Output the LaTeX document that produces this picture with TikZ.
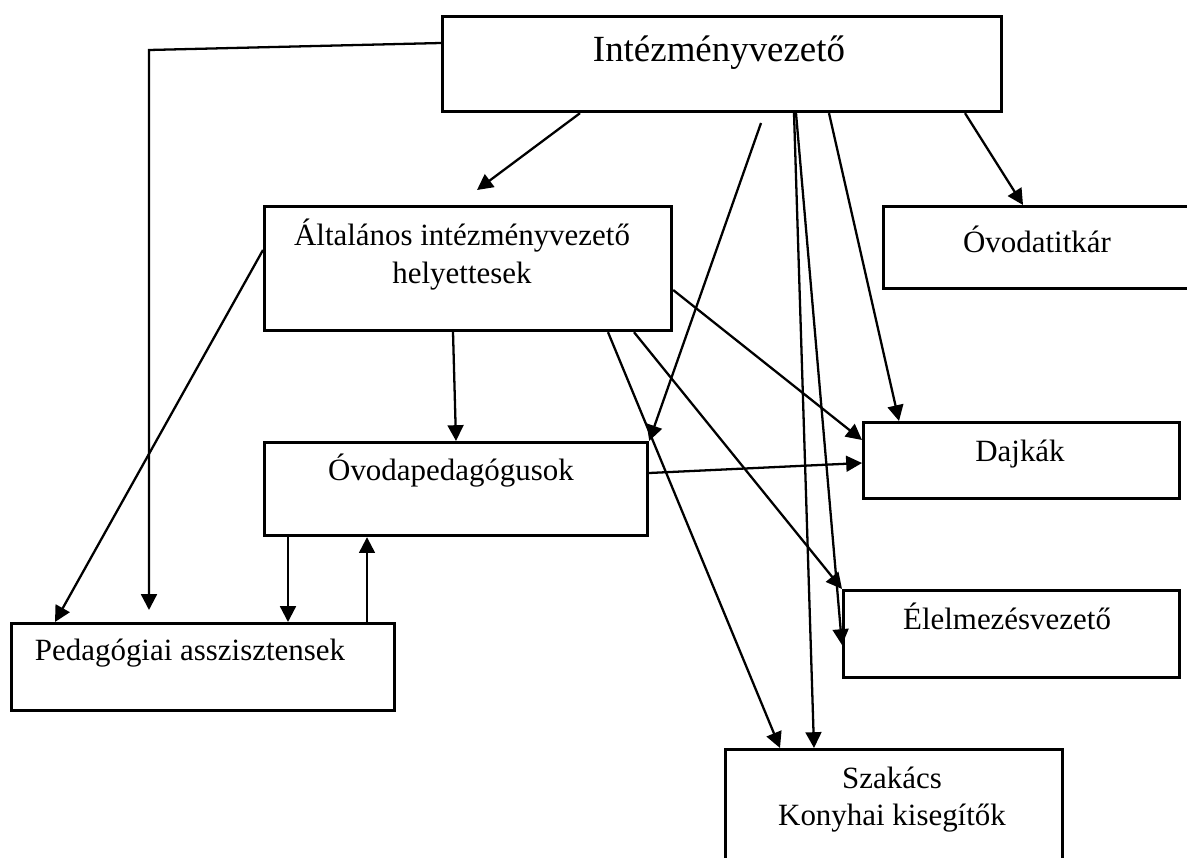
\documentclass[tikz,border=0pt]{standalone}
\usepackage{fontspec}
\setmainfont{Liberation Serif}
\usetikzlibrary{arrows.meta}

\tikzset{
  box/.style={draw, line width=1.8pt, anchor=north west, inner sep=0pt},
  lbl/.style={anchor=base, inner sep=0pt, font=\fontsize{17.6}{21.5}\selectfont},
  conn/.style={line width=1.3pt, -{Triangle[length=9pt,width=9pt]}}
}

\begin{document}
\begin{tikzpicture}[x=0.2mm,y=-0.2mm]
        \path[use as bounding box] (0,0) rectangle (1187,857);
        \clip (0,0) rectangle (1187,857);
        \node[box, minimum width=111.8mm, minimum height=19mm] (ivez) at (441,15) {};
        \node[box, minimum width=63.6mm, minimum height=16.4mm] (titkar) at (882,205) {};
        \node[box, minimum width=81.4mm, minimum height=24.8mm] (helyettes) at (263,205) {};
        \node[box, minimum width=76.6mm, minimum height=18.6mm] (ovped) at (263,441) {};
        \node[box, minimum width=63.2mm, minimum height=15.2mm] (dajka) at (862,421) {};
        \node[box, minimum width=67.2mm, minimum height=17.4mm] (elelm) at (842,589) {};
        \node[box, minimum width=76.6mm, minimum height=17.4mm] (pedasz) at (10,622) {};
        \node[box, minimum width=67.4mm, minimum height=26mm] (szakacs) at (724,748) {};

        \node[lbl, font=\fontsize{21}{25}\selectfont] (ivez-t) at (719,61) {Intézményvezető};
        \node[lbl] (titkar-t) at (1037,252) {Óvodatitkár};
        \node[lbl] (helyettes-t1) at (462,245) {Általános intézményvezető};
        \node[lbl] (helyettes-t2) at (462,283) {helyettesek};
        \node[lbl] (ovped-t) at (451,480) {Óvodapedagógusok};
        \node[lbl] (dajka-t) at (1020,461) {Dajkák};
        \node[lbl] (elelm-t) at (1007,629) {Élelmezésvezető};
        \node[lbl] (pedasz-t) at (190,660) {Pedagógiai asszisztensek};
        \node[lbl] (szakacs-t1) at (892,788) {Szakács};
        \node[lbl] (szakacs-t2) at (892,825) {Konyhai kisegítők};

        \coordinate (bend) at (149,50);
        \coordinate (end1) at (149,610);
        \coordinate (end2) at (477,190);
        \coordinate (start3) at (761,123);

        \draw[conn] (ivez.west |- 0,43) -- (bend) -- (end1);
        \draw[conn] (580,0 |- ivez.south) -- (end2);
        \draw[conn] (start3) -- (ovped.north east);
        \draw[conn] (794,0 |- ivez.south) -- (814,0 |- szakacs.north);
        \draw[conn] (796,0 |- ivez.south) -- (elelm.west |- 0,645);
        \draw[conn] (829,0 |- ivez.south) -- (899,0 |- dajka.north);
        \draw[conn] (965,0 |- ivez.south) -- (1023,0 |- titkar.north);
        \draw[conn] (helyettes.east |- 0,290) -- (dajka.west |- 0,440);
        \draw[conn] (453,0 |- helyettes.south) -- (456,0 |- ovped.north);
        \draw[conn] (608,0 |- helyettes.south) -- (780,0 |- szakacs.north);
        \draw[conn] (634,0 |- helyettes.south) -- (elelm.north west);
        \draw[conn] (helyettes.west |- 0,250) -- (55,0 |- pedasz.north);
        \draw[conn] (ovped.east |- 0,473) -- (dajka.west |- 0,463);
        \draw[conn] (288,0 |- ovped.south) -- (288,0 |- pedasz.north);
        \draw[conn] (367,0 |- pedasz.north) -- (367,0 |- ovped.south);
\end{tikzpicture}
\end{document}
